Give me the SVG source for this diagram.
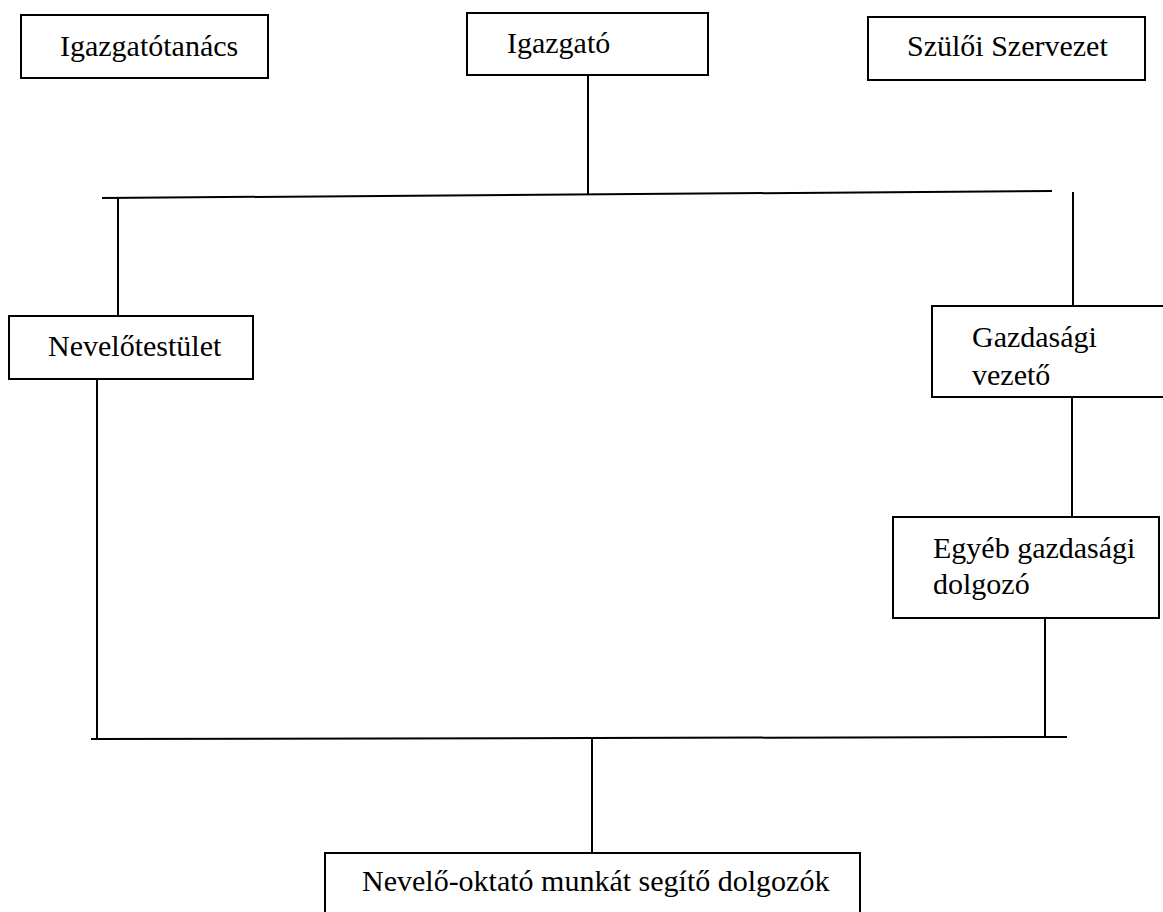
<svg xmlns="http://www.w3.org/2000/svg" width="1163" height="912" viewBox="0 0 1163 912">
<style>
.box{fill:#fff;stroke:#000;stroke-width:2}
.ln{stroke:#000;stroke-width:2;fill:none}
text{font-family:"Liberation Serif","Times New Roman",serif;font-size:30px;fill:#000}
</style>
<rect width="1163" height="912" fill="#fff"/>
<g id="connectors">
<line class="ln" x1="588" y1="75" x2="588" y2="194"/>
<line class="ln" x1="102" y1="198" x2="1052" y2="191"/>
<line class="ln" x1="118" y1="198" x2="118" y2="316"/>
<line class="ln" x1="1073" y1="192" x2="1073" y2="306"/>
<line class="ln" x1="97" y1="379" x2="97" y2="739"/>
<line class="ln" x1="1072" y1="397" x2="1072" y2="517"/>
<line class="ln" x1="1045" y1="618" x2="1045" y2="737"/>
<line class="ln" x1="91" y1="739" x2="1067" y2="737"/>
<line class="ln" x1="592" y1="738" x2="592" y2="853"/>
</g>
<g id="igazgatotanacs">
<rect class="box" x="21" y="15" width="247" height="63"/>
<text x="60" y="56">Igazgatótanács</text>
</g>
<g id="igazgato">
<rect class="box" x="467" y="13" width="241" height="62"/>
<text x="507" y="53">Igazgató</text>
</g>
<g id="szuloi-szervezet">
<rect class="box" x="868" y="17" width="277" height="63"/>
<text x="907" y="56">Szülői Szervezet</text>
</g>
<g id="nevelotestulet">
<rect class="box" x="9" y="316" width="244" height="63"/>
<text x="48" y="356">Nevelőtestület</text>
</g>
<g id="gazdasagi-vezeto">
<rect class="box" x="932" y="306" width="240" height="91"/>
<text x="972" y="347">Gazdasági</text>
<text x="972" y="385">vezető</text>
</g>
<g id="egyeb-gazdasagi-dolgozo">
<rect class="box" x="893" y="517" width="266" height="101"/>
<text x="933" y="558">Egyéb gazdasági</text>
<text x="933" y="594">dolgozó</text>
</g>
<g id="nevelo-oktato">
<rect class="box" x="325" y="853" width="535" height="70"/>
<text x="362" y="891">Nevelő-oktató munkát segítő dolgozók</text>
</g>
</svg>
